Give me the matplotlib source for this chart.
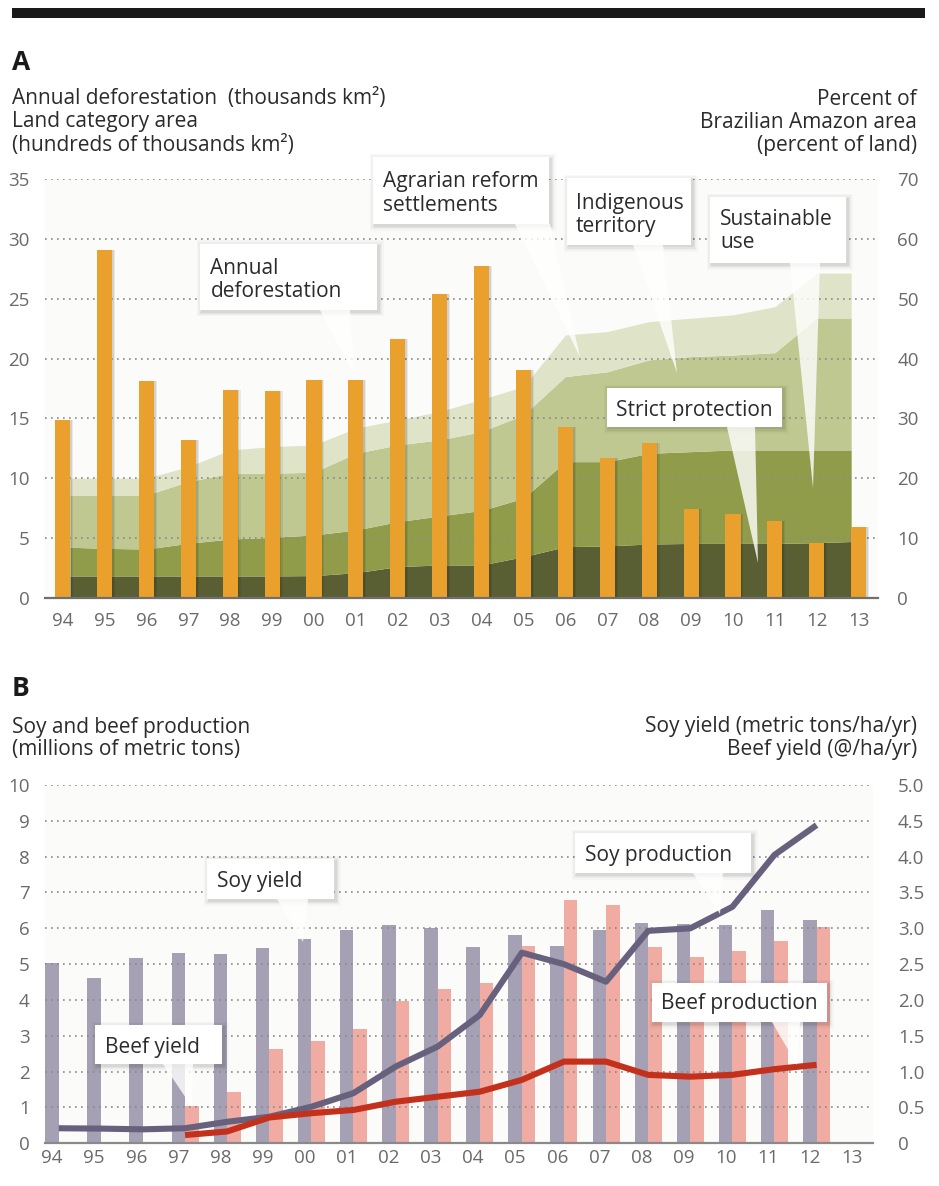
import numpy as np
import matplotlib
matplotlib.use("Agg")
import matplotlib.pyplot as plt
from matplotlib.patches import Polygon, Rectangle

plt.rcParams['font.family'] = ['Open Sans', 'DejaVu Sans']

# ---------------- data: panel A ----------------
year_labels = ['94', '95', '96', '97', '98', '99', '00', '01', '02', '03',
               '04', '05', '06', '07', '08', '09', '10', '11', '12', '13']
# annual deforestation, thousands km2
deforestation = [14.90, 29.06, 18.16, 13.23, 17.38, 17.26, 18.23, 18.17, 21.65, 25.40,
                 27.77, 19.01, 14.29, 11.65, 12.91, 7.46, 7.00, 6.42, 4.57, 5.89]
# land category areas, hundreds of thousands km2 (stacked bottom -> top)
strict_protection = [1.82, 1.82, 1.82, 1.82, 1.82, 1.82, 1.85, 2.09, 2.60, 2.74,
                     2.74, 3.43, 4.27, 4.33, 4.49, 4.54, 4.54, 4.54, 4.60, 4.70]
sustainable_use = [2.40, 2.31, 2.25, 2.73, 3.09, 3.23, 3.40, 3.57, 3.76, 4.10,
                   4.56, 4.89, 7.11, 7.05, 7.59, 7.68, 7.82, 7.82, 7.76, 7.66]
indigenous_territory = [4.37, 4.46, 4.52, 5.16, 5.50, 5.36, 5.25, 6.42, 6.42, 6.36,
                        6.60, 6.97, 7.12, 7.52, 7.82, 7.95, 7.94, 8.14, 11.04, 11.04]
agrarian_reform = [1.41, 1.41, 1.41, 1.25, 1.95, 2.23, 2.28, 2.10, 2.09, 2.37,
                   2.70, 2.37, 3.48, 3.36, 3.20, 3.21, 3.36, 3.85, 3.75, 3.75]
left_ticks_A = [0, 5, 10, 15, 20, 25, 30, 35]
right_ticks_A = [0, 10, 20, 30, 40, 50, 60, 70]

# ---------------- data: panel B ----------------
years_B = year_labels[:19]          # 94 .. 12 have data
soy_yield = [2.52, 2.30, 2.58, 2.66, 2.64, 2.72, 2.85, 2.97, 3.05, 3.00,
             2.74, 2.90, 2.75, 2.97, 3.07, 3.06, 3.04, 3.25, 3.12]      # t/ha/yr (right axis)
beef_years = year_labels[3:19]      # 97 .. 12
beef_yield = [0.52, 0.71, 1.31, 1.43, 1.59, 1.99, 2.16, 2.23, 2.76, 3.40,
              3.33, 2.74, 2.60, 2.69, 2.83, 3.02]                        # @/ha/yr (right axis)
soy_production = [0.42, 0.41, 0.39, 0.42, 0.60, 0.74, 1.02, 1.40, 2.14, 2.70,
                  3.58, 5.32, 5.00, 4.51, 5.93, 6.00, 6.60, 8.05, 8.88]  # Mt (left axis)
beef_production = [0.23, 0.33, 0.72, 0.84, 0.93, 1.16, 1.30, 1.44, 1.77, 2.28,
                   2.28, 1.91, 1.86, 1.91, 2.07, 2.19]                   # Mt (left axis)
left_ticks_B = list(range(0, 11))
right_ticks_B = [0, 0.5, 1.0, 1.5, 2.0, 2.5, 3.0, 3.5, 4.0, 4.5, 5.0]
right_labels_B = ['0', '0.5', '1.0', '1.5', '2.0', '2.5', '3.0', '3.5', '4.0', '4.5', '5.0']

# ---------------- styles ----------------
C_ORANGE = '#e9a02c'
C_AREAS = ['#5a5e33', '#919c4b', '#bec890', '#dfe4c8']
C_GREY_BAR = '#a6a0b4'
C_PINK_BAR = '#f0aca3'
C_SOY = '#68617e'
C_BEEF = '#c3311d'
C_TEXT = '#2b2b2b'
C_TICK = '#6a6a6a'
GRID_KW = dict(color='#8a8a8a', linewidth=1.2, linestyle=(0, (1, 2.6)))
HS = 15.0   # header / callout font size
TS = 13.5   # tick font size

W, H = 939, 1186
fig = plt.figure(figsize=(W / 100, H / 100), dpi=100)
fig.patch.set_facecolor('white')


def fx(x):
    return x / W


def fy(y):
    return 1 - y / H


def axes_px(x0, y0, x1, y1):
    return fig.add_axes([fx(x0), fy(y1), fx(x1) - fx(x0), (y1 - y0) / H])


def callout(box, lines, text_x, baselines, base, tip, size=HS):
    x0, y0, x1, y1 = box
    # soft shadow
    for k, a in zip([5, 3.5, 2, 1], [0.025, 0.03, 0.04, 0.05]):
        fig.patches.append(Rectangle((fx(x0 - k + 1.5), fy(y1 + k + 1.5)),
                                     (x1 - x0 + 2 * k) / W, (y1 - y0 + 2 * k) / H,
                                     transform=fig.transFigure, facecolor='black',
                                     edgecolor='none', alpha=a, zorder=20))
    bx0, bx1 = base
    fig.patches.append(Polygon([(fx(bx0), fy(y1)), (fx(bx1), fy(y1)), (fx(tip[0]), fy(tip[1]))],
                               closed=True, transform=fig.transFigure,
                               facecolor='white', edgecolor='none', alpha=0.8, zorder=21))
    fig.patches.append(Rectangle((fx(x0), fy(y1)), (x1 - x0) / W, (y1 - y0) / H,
                                 transform=fig.transFigure, facecolor='white',
                                 edgecolor='none', zorder=22))
    for t, b in zip(lines, baselines):
        fig.text(fx(text_x), fy(b), t, fontsize=size, color=C_TEXT,
                 ha='left', va='baseline', zorder=23)


# top black rule
fig.patches.append(Rectangle((fx(12), fy(18)), (925 - 12) / W, 10 / H,
                             transform=fig.transFigure, facecolor='#1a1a1a', edgecolor='none'))

# ---------------- panel A ----------------
fig.text(fx(12), fy(70), 'A', fontsize=19, fontweight='bold', color='#1a1a1a', va='baseline')
fig.text(fx(12), fy(104), 'Annual deforestation  (thousands km²)',
         fontsize=HS, color=C_TEXT, va='baseline')
fig.text(fx(12), fy(127.5), 'Land category area', fontsize=HS, color=C_TEXT, va='baseline')
fig.text(fx(12), fy(150.5), '(hundreds of thousands km²)',
         fontsize=HS, color=C_TEXT, va='baseline')
fig.text(fx(917), fy(105), 'Percent of', fontsize=HS, color=C_TEXT, va='baseline', ha='right')
fig.text(fx(917), fy(128.5), 'Brazilian Amazon area', fontsize=HS, color=C_TEXT,
         va='baseline', ha='right')
fig.text(fx(917), fy(151.5), '(percent of land)', fontsize=HS, color=C_TEXT,
         va='baseline', ha='right')

axA = axes_px(45, 179.3, 878, 597.7)
axA.set_facecolor('#fbfbf9')
xA = np.arange(len(year_labels))
bwA = 0.36
x_area = xA.astype(float)
x_area[0] += bwA / 2
x_area[-1] -= bwA / 2
layers = [strict_protection, sustainable_use, indigenous_territory, agrarian_reform]
bottom = np.zeros(len(xA))
for vals, col in zip(layers, C_AREAS):
    top = bottom + np.array(vals)
    axA.fill_between(x_area, bottom, top, color=col, linewidth=0, zorder=1)
    bottom = top
# bar shadows + bars
axA.bar(xA + 0.07, deforestation, width=bwA, color='black', alpha=0.07, linewidth=0, zorder=2.7)
axA.bar(xA + 0.04, deforestation, width=bwA, color='black', alpha=0.10, linewidth=0, zorder=2.8)
axA.bar(xA, deforestation, width=bwA, color=C_ORANGE, linewidth=0, zorder=3)

axA.set_xlim(-0.42, 19.46)
axA.set_ylim(0, 35)
axA.set_yticks(left_ticks_A)
axA.set_xticks(xA)
axA.set_xticklabels(year_labels)
axA.set_axisbelow('line')
axA.yaxis.grid(True, **GRID_KW)
for s in ['top', 'left', 'right']:
    axA.spines[s].set_visible(False)
axA.spines['bottom'].set_color('#6f6f6f')
axA.spines['bottom'].set_linewidth(1.6)
axA.spines['bottom'].set_zorder(4)
axA.tick_params(axis='both', length=0, labelsize=TS, labelcolor=C_TICK)
axA.tick_params(axis='x', pad=10)
axA.tick_params(axis='y', pad=11)

axA2 = axA.twinx()
axA2.set_ylim(0, 70)
axA2.set_yticks(right_ticks_A)
for s in ['top', 'left', 'right', 'bottom']:
    axA2.spines[s].set_visible(False)
axA2.tick_params(axis='y', length=0, labelsize=TS, labelcolor=C_TICK, pad=14)

# callouts A
callout((200, 244, 377, 310), ['Annual', 'deforestation'], 210.5, [273.5, 297], (320, 350), (355, 377))
callout((373, 157, 549, 224), ['Agrarian reform', 'settlements'], 383, [187, 211], (515, 550), (580, 357))
callout((567, 178, 691, 245), ['Indigenous', 'territory'], 576, [208.5, 232], (633, 663), (677, 373))
callout((710, 197, 846, 263), ['Sustainable', 'use'], 720, [225, 248.5], (790, 820), (813, 488))
callout((607, 388, 782, 427), ['Strict protection'], 616, [416], (727, 755), (758, 563))

# ---------------- panel B ----------------
fig.text(fx(12), fy(696.5), 'B', fontsize=19, fontweight='bold', color='#1a1a1a', va='baseline')
fig.text(fx(12), fy(732.5), 'Soy and beef production', fontsize=HS, color=C_TEXT, va='baseline')
fig.text(fx(12), fy(755.5), '(millions of metric tons)', fontsize=HS, color=C_TEXT, va='baseline')
fig.text(fx(917), fy(732), 'Soy yield (metric tons/ha/yr)', fontsize=HS, color=C_TEXT,
         va='baseline', ha='right')
fig.text(fx(917), fy(755.5), 'Beef yield (@/ha/yr)', fontsize=HS, color=C_TEXT,
         va='baseline', ha='right')

axB = axes_px(45, 785, 873, 1143.3)
axB2 = axB.twinx()
axB.set_zorder(axB2.get_zorder() + 1)
axB.patch.set_visible(False)
axB2.patch.set_visible(True)
axB2.patch.set_facecolor('#fbfbf9')

bwB = 0.32
xB = np.arange(len(years_B))
xBeef = np.array([year_labels.index(y) for y in beef_years])
axB2.bar(xB, soy_yield, width=bwB, color=C_GREY_BAR, linewidth=0)
axB2.bar(xBeef + bwB, beef_yield, width=bwB, color=C_PINK_BAR, linewidth=0)
axB2.set_ylim(0, 5)
axB2.set_yticks(right_ticks_B)
axB2.set_yticklabels(right_labels_B)

axB.plot(xB + bwB / 2, soy_production, color=C_SOY, linewidth=4.4,
         solid_joinstyle='round', solid_capstyle='butt', zorder=3)
axB.plot(xBeef + bwB / 2, beef_production, color=C_BEEF, linewidth=4.4,
         solid_joinstyle='round', solid_capstyle='butt', zorder=4)
axB.set_ylim(0, 10)
axB.set_xlim(-0.166, 19.5)
axB.set_yticks(left_ticks_B)
axB.set_xticks(np.arange(len(year_labels)))
axB.set_xticklabels(year_labels)
axB.set_axisbelow(True)
axB.yaxis.grid(True, **GRID_KW)
for a in (axB, axB2):
    for s in ['top', 'left', 'right', 'bottom']:
        a.spines[s].set_visible(False)
axB.spines['bottom'].set_visible(True)
axB.spines['bottom'].set_color('#8a8a8a')
axB.spines['bottom'].set_linewidth(1.6)
axB.tick_params(axis='both', length=0, labelsize=TS, labelcolor=C_TICK)
axB.tick_params(axis='x', pad=4)
axB.tick_params(axis='y', pad=11)
axB2.tick_params(axis='y', length=0, labelsize=TS, labelcolor=C_TICK, pad=18)

# callouts B
callout((207, 859, 334, 899), ['Soy yield'], 217, [887], (277, 308), (303, 942))
callout((95, 1025, 222, 1064), ['Beef yield'], 105, [1053], (163, 193), (192, 1107))
callout((575, 833, 751, 873), ['Soy production'], 585, [860.5], (693, 723), (720, 914))
callout((652, 983, 827, 1022), ['Beef production'], 661, [1009.5], (772, 800), (797, 1065))

fig.savefig('out.png', dpi=100, facecolor='white')
